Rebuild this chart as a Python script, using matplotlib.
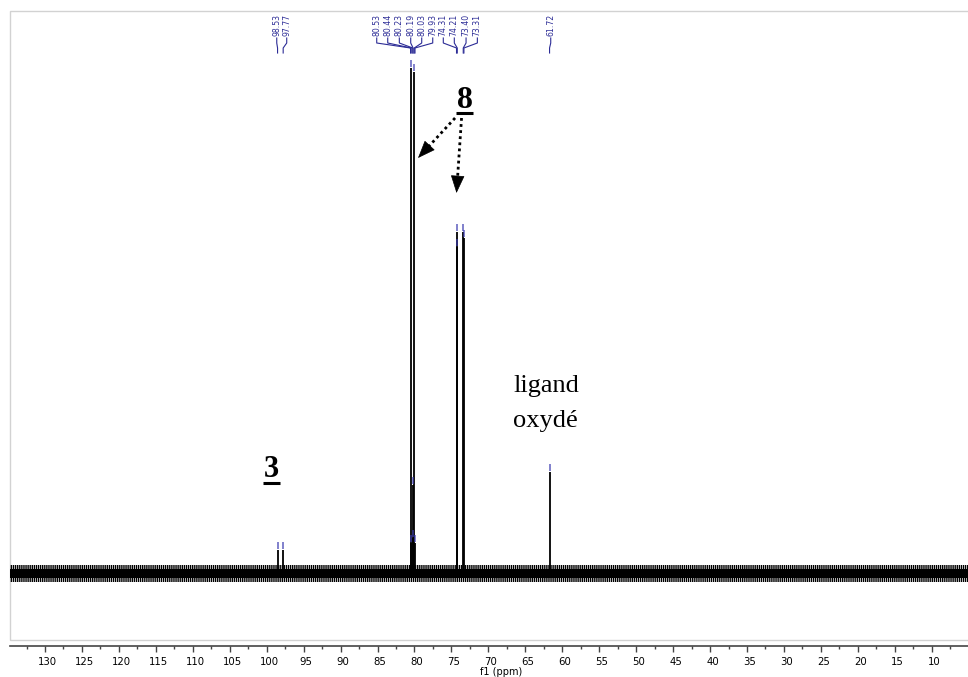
import matplotlib
matplotlib.use("Agg")
import numpy as np
import matplotlib.pyplot as plt
from matplotlib.patches import Rectangle
from matplotlib.transforms import ScaledTranslation
from matplotlib.ticker import MultipleLocator

# ---- data (13C NMR) ----
peak_ppm = [98.53, 97.77, 80.53, 80.44, 80.23, 80.19, 80.03, 79.93,
            74.31, 74.21, 73.40, 73.31, 61.72]
peak_height = [23, 23, 30, 505, 35, 88, 501, 30,
               341, 326, 341, 335, 101]
peak_labels = ["98.53", "97.77", "80.53", "80.44", "80.23", "80.19", "80.03",
               "79.93", "74.31", "74.21", "73.40", "73.31", "61.72"]
noise_core = (-5, 4)
noise_outer = (-9, 8)
x_ticks = [130, 125, 120, 115, 110, 105, 100, 95, 90, 85, 80, 75, 70,
           65, 60, 55, 50, 45, 40, 35, 30, 25, 20, 15, 10]

# ---- layout (label stack positions, ppm) ----
label_x = [98.64, 97.29, 85.11, 83.62, 82.05, 80.51, 79.02, 77.53,
           76.10, 74.61, 73.02, 71.49, 61.56]

plt.rcParams["hatch.linewidth"] = 1.0
W, H = 968, 677
fig = plt.figure(figsize=(W / 100, H / 100), dpi=100)
ax = fig.add_axes([10 / W, 37 / H, 958 / W, 629 / H])
XL = (134.74, 5.09)
ax.set_xlim(*XL)
ax.set_ylim(-67, 562)

# baseline noise envelope
ax.fill_between(XL, [noise_outer[0]] * 2, [noise_outer[1]] * 2,
                facecolor="none", edgecolor="black", hatch="||||||||", lw=0)
ax.fill_between(XL, [noise_core[0]] * 2, [noise_core[1]] * 2,
                color="black", lw=0)

# peaks
ax.vlines(peak_ppm, 0, peak_height, color="black", lw=1.3)
# peak-pick markers
blue = "#3a3ab0"
ax.vlines(peak_ppm, [h + 1 for h in peak_height], [h + 8 for h in peak_height],
          color=blue, lw=1.2, alpha=0.75)

# peak labels with connectors
for px, lx, lab in zip(peak_ppm, label_x, peak_labels):
    ax.text(lx, 537, lab, rotation=90, ha="center", va="bottom",
            fontsize=5.6, color="#2c2c96", family="DejaVu Sans")
    ax.plot([lx, lx, px, px], [535, 530, 525, 520], color="#2c2c96", lw=0.8)

# annotations
serif = "Liberation Serif"
ax.text(73.16, 465, "8", fontsize=23, fontweight="bold", family=serif,
        ha="center", va="baseline")
ax.plot([74.38, 72.08], [459.5, 459.5], color="black", lw=2.2,
        solid_capstyle="butt")
ax.text(99.35, 96, "3", fontsize=22, fontweight="bold", family=serif,
        ha="center", va="baseline")
ax.plot([100.5, 98.2], [90.5, 90.5], color="black", lw=2.2,
        solid_capstyle="butt")
ax.text(66.66, 181, "ligand", fontsize=19, family=serif, ha="left", va="baseline")
ax.text(66.66, 146, "oxydé", fontsize=19, family=serif, ha="left", va="baseline")


def dotted_arrow(start, tip, head_px=16):
    p0 = ax.transData.transform(start)
    p1 = ax.transData.transform(tip)
    d = p1 - p0
    u = d / np.hypot(*d)
    base = ax.transData.inverted().transform(p1 - u * head_px)
    ax.plot([start[0], base[0]], [start[1], base[1]], color="black", lw=2,
            linestyle=(0, (1, 1.2)))
    ax.annotate("", xy=tip, xytext=tuple(base),
                arrowprops=dict(arrowstyle="-|>,head_length=1.15,head_width=0.45",
                                mutation_scale=10, lw=0.5, color="black",
                                shrinkA=0, shrinkB=0))


dotted_arrow((74.51, 455), (79.52, 415))
dotted_arrow((73.63, 455), (74.31, 380))

# frame & axis
for s in ("top", "left", "right"):
    ax.spines[s].set_visible(False)
ax.add_patch(Rectangle((0, 0), 1.02, 1, transform=ax.transAxes, fill=False,
                       ec="#d2d2d2", lw=1, clip_on=False, zorder=0))
ax.spines["bottom"].set_position(("outward", 4))
ax.spines["bottom"].set_color("#444444")
ax.spines["bottom"].set_linewidth(1.2)
ax.set_yticks([])
ax.set_xticks(x_ticks)
ax.set_xticklabels([str(t) for t in x_ticks])
ax.xaxis.set_minor_locator(MultipleLocator(2.5))
ax.tick_params(axis="x", which="major", direction="out", length=4, width=1,
               color="#444444", labelsize=7.3, pad=4)
ax.tick_params(axis="x", which="minor", direction="out", length=2, width=1,
               color="#444444")
for lbl in ax.get_xticklabels():
    lbl.set_transform(lbl.get_transform() +
                      ScaledTranslation(2.5 / 100, 0, fig.dpi_scale_trans))
fig.text(501 / W, 1 - 672 / H, "f1 (ppm)", fontsize=7, ha="center", va="center")

fig.savefig("out.png", dpi=100)
